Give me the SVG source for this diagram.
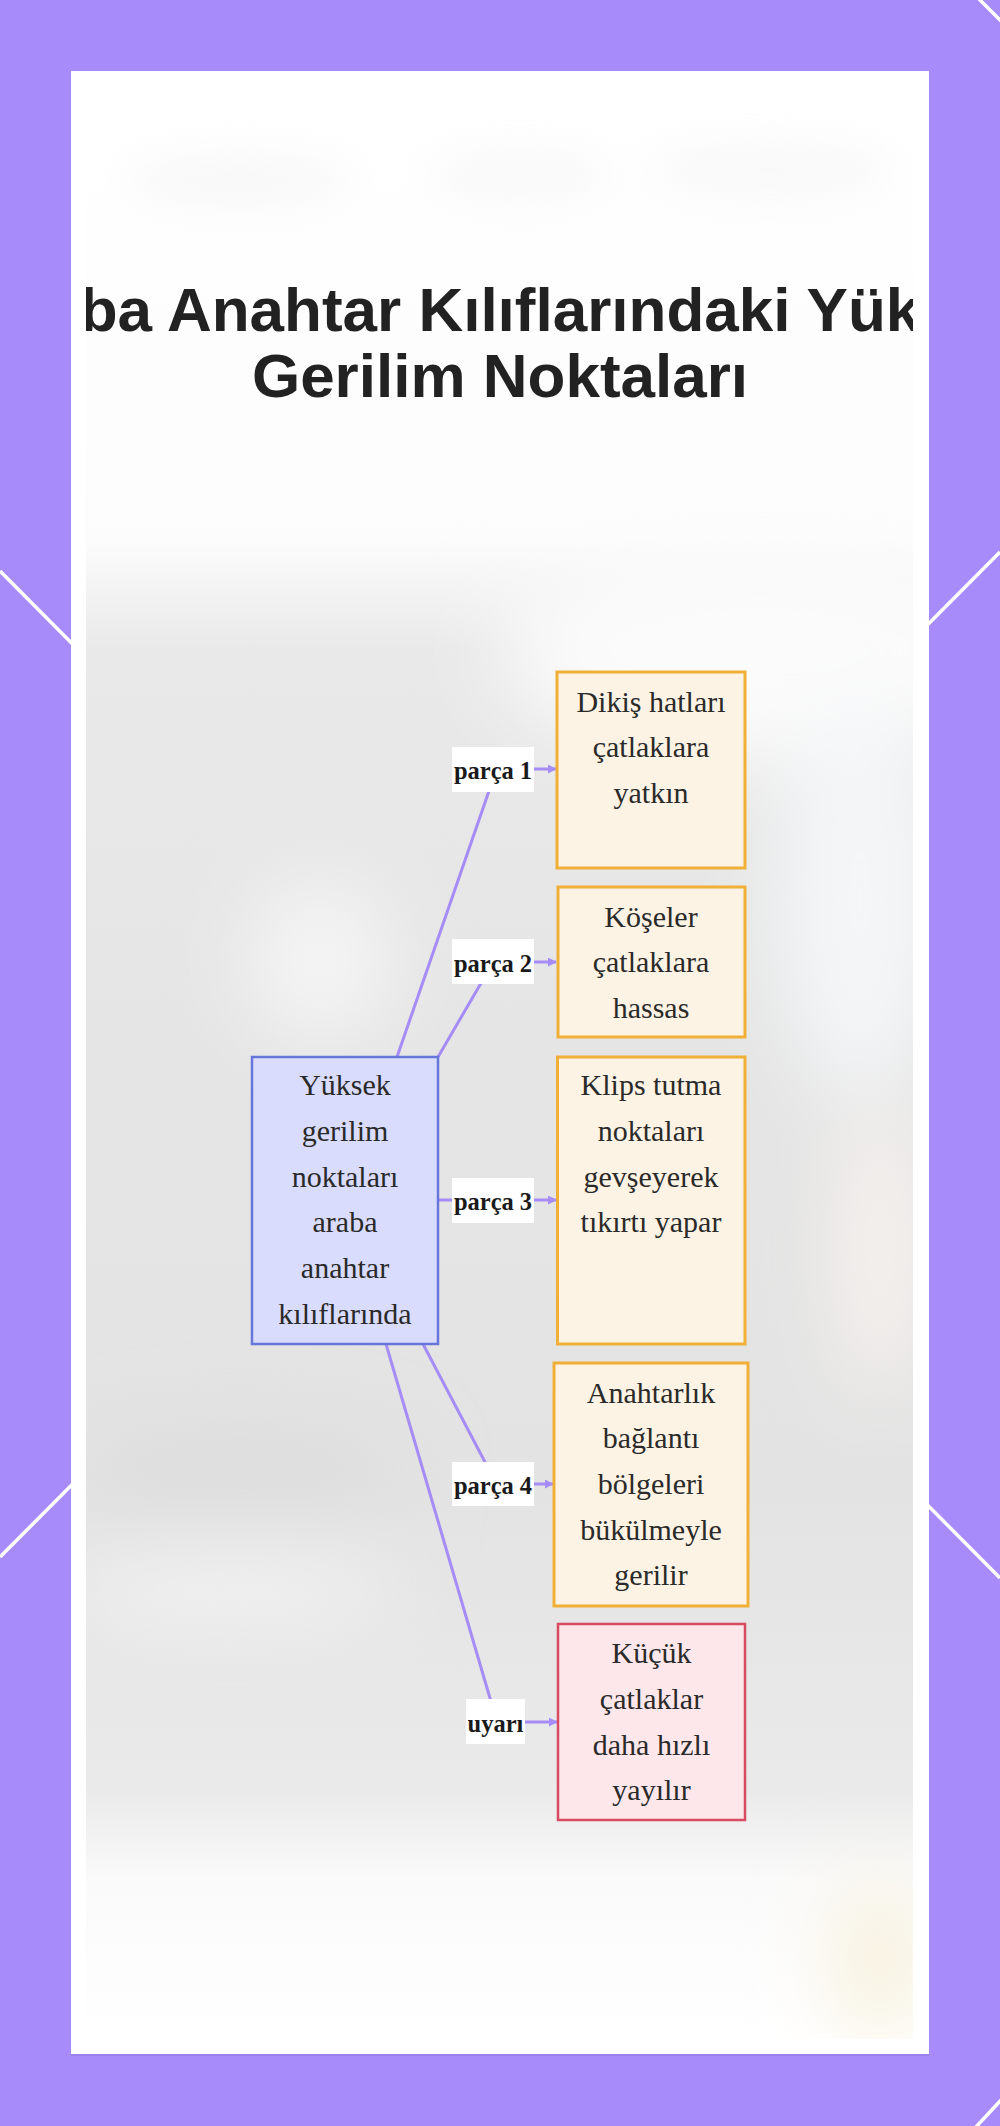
<svg xmlns="http://www.w3.org/2000/svg" width="1000" height="2126" viewBox="0 0 1000 2126">
  <defs>
    <style>
      .title { font-family: "Liberation Sans", Arial, sans-serif; font-weight: bold; font-size: 62px; fill: #222222; text-anchor: middle; }
      .ntext { font-family: "Liberation Serif", "Times New Roman", serif; font-size: 30px; fill: #2a2a2a; text-anchor: middle; }
      .ltext { font-family: "Liberation Serif", "Times New Roman", serif; font-size: 24.5px; font-weight: bold; fill: #1a1a1a; text-anchor: middle; }
      .lbg { fill: #ffffff; }
      .edge { fill: none; stroke: #a58cf6; stroke-width: 3; }
      .orange { fill: #fdf3e4; stroke: #f0b038; stroke-width: 3; }
      .blue { fill: #d9dcfc; stroke: #6676da; stroke-width: 2.5; }
      .red { fill: #fde7ea; stroke: #d84a62; stroke-width: 2.5; }
      .diag { stroke: #ffffff; stroke-width: 3.5; }
    </style>
    <marker id="arrow" viewBox="0 0 10 10" refX="9" refY="5" markerUnits="userSpaceOnUse" markerWidth="9" markerHeight="9" orient="auto">
      <path d="M0,0 L10,5 L0,10 z" fill="#a58cf6"/>
    </marker>
    <clipPath id="inner">
      <rect x="86" y="86" width="827" height="1953"/>
    </clipPath>
    <linearGradient id="bgGrad" x1="0" y1="86" x2="0" y2="2039" gradientUnits="userSpaceOnUse">
      <stop offset="0" stop-color="#ffffff"/>
      <stop offset="0.232" stop-color="#fcfcfc"/>
      <stop offset="0.289" stop-color="#e9e9e9"/>
      <stop offset="0.5" stop-color="#e5e5e5"/>
      <stop offset="0.72" stop-color="#e3e3e3"/>
      <stop offset="0.872" stop-color="#eaeaea"/>
      <stop offset="0.919" stop-color="#fafafa"/>
      <stop offset="1" stop-color="#ffffff"/>
    </linearGradient>
    <filter id="blur" x="-50%" y="-50%" width="200%" height="200%">
      <feGaussianBlur stdDeviation="40"/>
    </filter>
    <filter id="blurS" x="-50%" y="-50%" width="200%" height="200%">
      <feGaussianBlur stdDeviation="18"/>
    </filter>
  </defs>

  <!-- frame background -->
  <rect x="0" y="0" width="1000" height="2126" fill="#a78bfa"/>
  <g id="frame-lines">
    <line class="diag" x1="0" y1="571" x2="1000" y2="1578"/>
    <line class="diag" x1="0" y1="1557" x2="1000" y2="552"/>
    <line class="diag" x1="978" y1="-2" x2="1002" y2="22"/>
    <line class="diag" x1="1002" y1="2099" x2="975" y2="2128"/>
  </g>
  <rect x="71" y="73" width="858" height="1983" fill="#9479e6" opacity="0.6"/>
  <rect x="71" y="71" width="858" height="1983" fill="#ffffff"/>

  <!-- blurred photo-like background -->
  <g clip-path="url(#inner)">
    <rect x="86" y="86" width="827" height="1953" fill="url(#bgGrad)"/>
    <g filter="url(#blurS)" opacity="0.35">
      <ellipse cx="240" cy="180" rx="110" ry="28" fill="#ececec"/>
      <ellipse cx="520" cy="175" rx="90" ry="28" fill="#eeeeee"/>
      <ellipse cx="770" cy="170" rx="120" ry="30" fill="#eeeeee"/>
    </g>
    <g filter="url(#blur)">
      <ellipse cx="760" cy="650" rx="260" ry="110" fill="#fbfbfb"/>
      <ellipse cx="860" cy="900" rx="80" ry="200" fill="#f4f6f8"/>
      <ellipse cx="320" cy="960" rx="70" ry="80" fill="#f5f5f5"/>
      <ellipse cx="240" cy="1470" rx="170" ry="35" fill="#dcdcdc"/>
      <ellipse cx="230" cy="1590" rx="170" ry="30" fill="#f4f4f4"/>
      <ellipse cx="880" cy="1250" rx="40" ry="150" fill="#f8f3ef"/>
      <ellipse cx="880" cy="1960" rx="45" ry="80" fill="#f7f0da"/>
    </g>
    <text class="title" x="500" y="331">Araba Anahtar Kılıflarındaki Yüksek</text>
    <text class="title" x="500" y="397">Gerilim Noktaları</text>
  </g>

  <!-- connectors -->
  <g id="edges">
    <path class="edge" d="M397,1057 L490,788 Q494,769 510,769 L556,769" marker-end="url(#arrow)"/>
    <path class="edge" d="M438,1057 L484,978 Q490,962 505,962 L556,962" marker-end="url(#arrow)"/>
    <path class="edge" d="M438,1200 L556,1200" marker-end="url(#arrow)"/>
    <path class="edge" d="M423,1344 L486,1464 Q498,1484 515,1484 L553,1484" marker-end="url(#arrow)"/>
    <path class="edge" d="M386,1344 L492,1705 Q497,1722 512,1722 L557,1722" marker-end="url(#arrow)"/>
    <g id="edge-labels">
      <rect class="lbg" x="452" y="747" width="82" height="45"/>
      <text class="ltext" x="493" y="779">parça 1</text>
      <rect class="lbg" x="452" y="939" width="82" height="45"/>
      <text class="ltext" x="493" y="972">parça 2</text>
      <rect class="lbg" x="452" y="1178" width="82" height="45"/>
      <text class="ltext" x="493" y="1210">parça 3</text>
      <rect class="lbg" x="452" y="1462" width="82" height="44"/>
      <text class="ltext" x="493" y="1494">parça 4</text>
      <rect class="lbg" x="466" y="1699" width="59" height="45"/>
      <text class="ltext" x="495.5" y="1732">uyarı</text>
    </g>
  </g>

  <!-- nodes -->
  <g id="node-main">
    <rect class="blue" x="252" y="1057" width="186" height="287"/>
    <text class="ntext" x="345" y="1095">Yüksek</text>
    <text class="ntext" x="345" y="1141">gerilim</text>
    <text class="ntext" x="345" y="1187">noktaları</text>
    <text class="ntext" x="345" y="1232">araba</text>
    <text class="ntext" x="345" y="1278">anahtar</text>
    <text class="ntext" x="345" y="1324">kılıflarında</text>
  </g>
  <g id="node-part1">
    <rect class="orange" x="557" y="672" width="188" height="196"/>
    <text class="ntext" x="651" y="712">Dikiş hatları</text>
    <text class="ntext" x="651" y="757">çatlaklara</text>
    <text class="ntext" x="651" y="803">yatkın</text>
  </g>
  <g id="node-part2">
    <rect class="orange" x="558" y="887" width="187" height="150"/>
    <text class="ntext" x="651" y="927">Köşeler</text>
    <text class="ntext" x="651" y="972">çatlaklara</text>
    <text class="ntext" x="651" y="1018">hassas</text>
  </g>
  <g id="node-part3">
    <rect class="orange" x="557.5" y="1057" width="187.5" height="287"/>
    <text class="ntext" x="651" y="1095">Klips tutma</text>
    <text class="ntext" x="651" y="1141">noktaları</text>
    <text class="ntext" x="651" y="1187">gevşeyerek</text>
    <text class="ntext" x="651" y="1232">tıkırtı yapar</text>
  </g>
  <g id="node-part4">
    <rect class="orange" x="554" y="1363" width="194" height="243"/>
    <text class="ntext" x="651" y="1403">Anahtarlık</text>
    <text class="ntext" x="651" y="1448">bağlantı</text>
    <text class="ntext" x="651" y="1494">bölgeleri</text>
    <text class="ntext" x="651" y="1540">bükülmeyle</text>
    <text class="ntext" x="651" y="1585">gerilir</text>
  </g>
  <g id="node-warning">
    <rect class="red" x="558" y="1624" width="187" height="196"/>
    <text class="ntext" x="651.5" y="1663">Küçük</text>
    <text class="ntext" x="651.5" y="1709">çatlaklar</text>
    <text class="ntext" x="651.5" y="1755">daha hızlı</text>
    <text class="ntext" x="651.5" y="1800">yayılır</text>
  </g>
</svg>
